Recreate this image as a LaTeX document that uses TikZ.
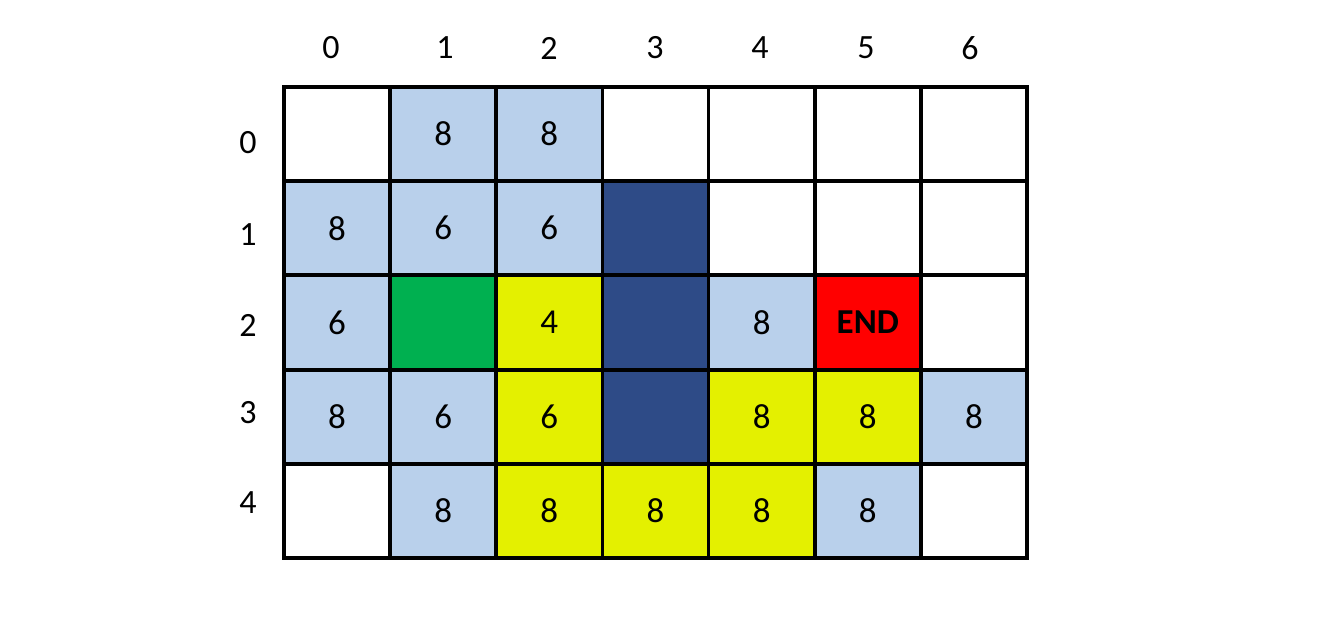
\documentclass[tikz,border=0pt]{standalone}
\usepackage{fontspec}
\setmainfont{Carlito}
\definecolor{lb}{RGB}{185,208,235}
\definecolor{yl}{RGB}{228,240,0}
\definecolor{gr}{RGB}{0,176,80}
\definecolor{db}{RGB}{46,75,135}
\definecolor{rd}{RGB}{255,0,0}
\tikzset{
  cell/.style={draw=black, line width=1.9pt, minimum width=53.07pt, minimum height=47.1pt, inner sep=0pt, font=\fontsize{17.5}{17.5}\selectfont, text=black},
  lbl/.style={font=\fontsize{17}{17}\selectfont, inner sep=0pt}
}
\begin{document}
\begin{tikzpicture}[x=0.5pt,y=-0.5pt]
\useasboundingbox[fill=white] (0,0) rectangle (1328,620);
% cells: colour and text per row
\foreach \r/\row in {0/{white/{},lb/8,lb/8,white/{},white/{},white/{},white/{}},
                     1/{lb/8,lb/6,lb/6,db/{},white/{},white/{},white/{}},
                     2/{lb/6,gr/{},yl/4,db/{},lb/8,rd/END,white/{}},
                     3/{lb/8,lb/6,yl/6,db/{},yl/8,yl/8,lb/8},
                     4/{white/{},lb/8,yl/8,yl/8,yl/8,lb/8,white/{}}}{
  \foreach \cl/\tx [count=\c from 0] in \row {
    \node[cell, fill=\cl] (c\r\c) at ({284+106.14*(\c+0.5)},{87+94.2*(\r+0.5)}) {\ifnum\r=2 \ifnum\c=5 \bfseries\fi\fi\tx};
  }
}
% column labels
\foreach \x [count=\c from 0] in {331,445,549,655,760,866,970}
  \node[lbl] (col\c) at (\x,48) {\c};
% row labels
\foreach \y [count=\r from 0] in {143,235,325,413,503}
  \node[lbl] (row\r) at (248,\y) {\r};
\end{tikzpicture}
\end{document}
